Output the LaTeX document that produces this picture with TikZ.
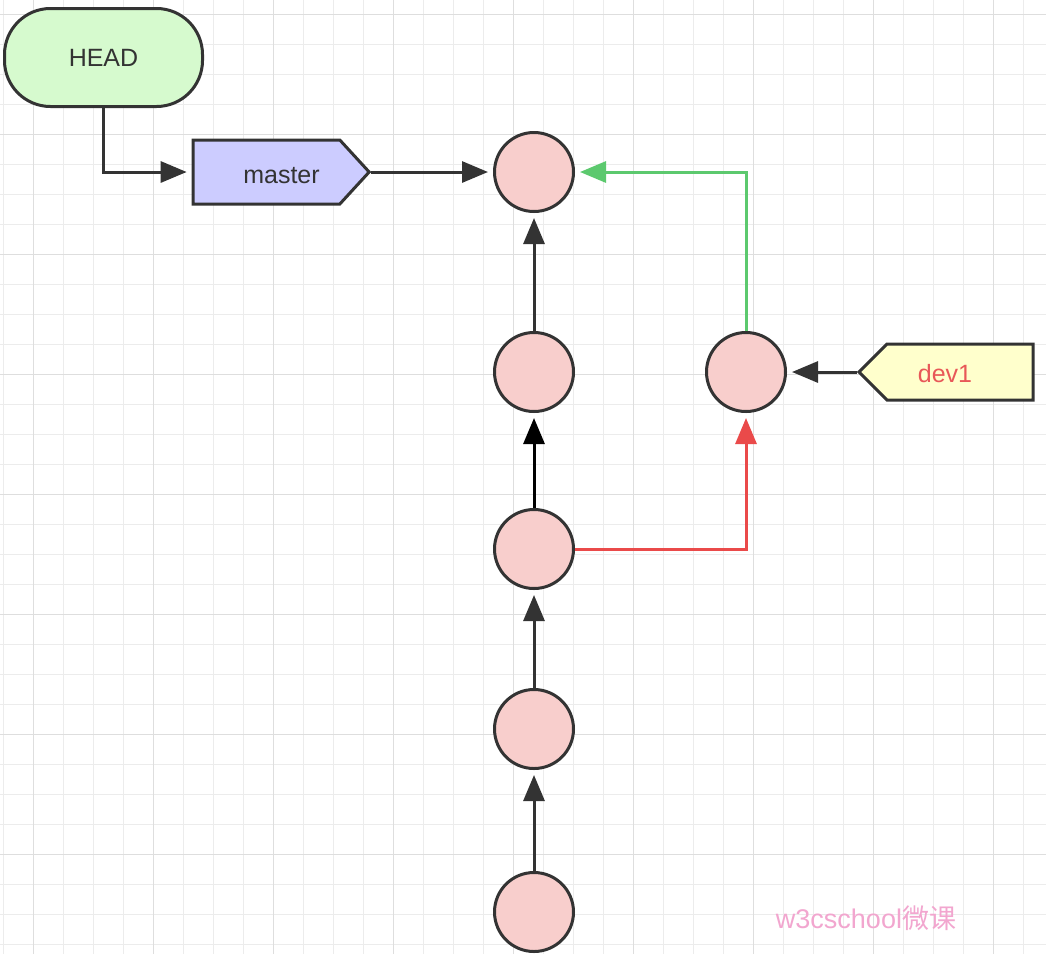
\documentclass[tikz,border=0pt]{standalone}
\usepackage{fontspec}
\setmainfont{Liberation Sans}
\newfontfamily\cjkfont{Noto Sans CJK SC}
\usetikzlibrary{arrows.meta,shapes.symbols}
\definecolor{gridminor}{RGB}{236,236,236}
\definecolor{gridmajor}{RGB}{222,222,222}
\definecolor{strokec}{RGB}{51,51,51}
\definecolor{headfill}{RGB}{214,250,206}
\definecolor{masterfill}{RGB}{204,204,255}
\definecolor{devfill}{RGB}{255,255,204}
\definecolor{commitfill}{RGB}{248,206,204}
\definecolor{greenline}{RGB}{92,201,110}
\definecolor{redline}{RGB}{234,74,74}
\definecolor{devtext}{RGB}{232,88,88}
\definecolor{wmark}{RGB}{242,166,207}
\tikzset{
  commit/.style={circle, draw=strokec, fill=commitfill, line width=3pt, minimum size=79pt, inner sep=0pt},
  conn/.style={draw=strokec, line width=3pt, -{Triangle[length=26pt,width=21pt]}, shorten >=5pt},
  lbl/.style={font=\fontsize{25}{30}\selectfont, text=strokec},
}
\begin{document}
\begin{tikzpicture}[x=1pt,y=-1pt]
\useasboundingbox (0,0) rectangle (1046,954);
\fill[white] (0,0) rectangle (1046,954);
% grid
\foreach \i in {0,...,34} {
  \draw[gridminor, line width=1.5pt] ({3.3+30*\i},0) -- ({3.3+30*\i},954);
}
\foreach \i in {0,...,31} {
  \draw[gridminor, line width=1.5pt] (0,{14.5+30*\i}) -- (1046,{14.5+30*\i});
}
\foreach \i in {0,...,8} {
  \draw[gridmajor, line width=1.5pt] ({33.3+120*\i},0) -- ({33.3+120*\i},954);
}
\foreach \i in {0,...,7} {
  \draw[gridmajor, line width=1.5pt] (0,{14.5+120*\i}) -- (1046,{14.5+120*\i});
}
% nodes
\node[draw=strokec, fill=headfill, line width=3pt, rounded corners=46pt,
      minimum width=198pt, minimum height=98pt, lbl] (head) at (103.5,57.5) {HEAD};
\node[signal, signal to=east, signal pointer angle=95, draw=strokec, fill=masterfill,
      line width=3pt, minimum width=176pt, minimum height=64pt, inner sep=0pt, lbl] (master) at (266.5,172) {\hspace*{30pt}\rule{0pt}{23pt}master};
\node[signal, signal to=west, signal pointer angle=90, draw=strokec, fill=devfill,
      line width=3pt, minimum width=174pt, minimum height=56pt, inner sep=0pt, lbl, text=devtext] (dev) at (960,372) {\rule{0pt}{22pt}dev1\hspace*{30pt}};
\node[commit] (c1) at (534,172) {};
\node[commit] (c2) at (534,372) {};
\node[commit] (c3) at (534,549) {};
\node[commit] (c4) at (534,729) {};
\node[commit] (c5) at (534,912) {};
\node[commit] (d1) at (746,372) {};
% connectors
\draw[conn] (head.south) |- (master.west);
\draw[conn] (master.east) -- (c1.west);
\draw[conn] (c5.north) -- (c4.south);
\draw[conn] (c4.north) -- (c3.south);
\draw[conn, draw=black] (c3.north) -- (c2.south);
\draw[conn] (c2.north) -- (c1.south);
\draw[conn, draw=redline] (c3.east) -| (d1.south);
\draw[conn, draw=greenline] (d1.north) |- (c1.east);
\draw[conn] (dev.west) -- (d1.east);
% watermark
\node[text=wmark, font=\fontsize{27}{30}\selectfont, inner sep=0pt] (wm) at (866,918) {w3cschool{\cjkfont 微课}};
\end{tikzpicture}
\end{document}
